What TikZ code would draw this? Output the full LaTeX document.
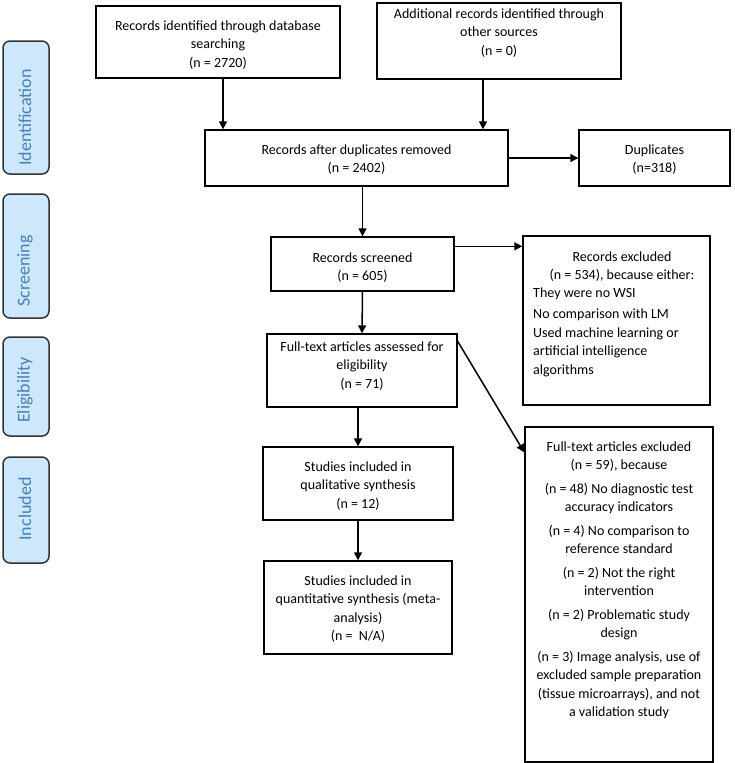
\documentclass[tikz,border=0pt]{standalone}
\usepackage{fontspec}
\setmainfont{Carlito}
\usetikzlibrary{arrows.meta}
\definecolor{lblfill}{HTML}{CCE8FA}
\definecolor{lbltext}{HTML}{4A7EBB}
\definecolor{lblline}{HTML}{333333}
\begin{document}
\begin{tikzpicture}[x=1pt,y=-1pt,
  boxnode/.style={draw=black, line width=1.4pt, inner sep=0pt},
  sidebox/.style={draw=lblline, fill=lblfill, line width=1.5pt, rounded corners=7pt, inner sep=0pt, minimum width=46pt},
  sidetext/.style={text=lbltext, rotate=90, inner sep=0pt, font=\fontsize{18}{20}\selectfont},
  txt/.style={inner sep=0pt, anchor=north, align=center, font=\fontsize{14}{18.5}\selectfont},
  ltxt/.style={inner sep=0pt, anchor=north west, align=left, font=\fontsize{14}{18.5}\selectfont},
  arr/.style={line width=1.5pt, -{Triangle[length=8pt,width=8pt]}}]
\useasboundingbox (0,0) rectangle (734,763);

% side labels
\node[sidebox, minimum height=133pt] (sIdent) at (26,107.5) {};
\node[sidebox, minimum height=124pt] (sScreen) at (26,256) {};
\node[sidebox, minimum height=99pt] (sElig) at (26,386.5) {};
\node[sidebox, minimum height=106pt] (sIncl) at (26,510) {};
\node[sidetext] (tIdent) at (25,117.5) {Identification};
\node[sidetext] (tScreen) at (25,271) {Screening};
\node[sidetext] (tElig) at (25,390) {Eligibility};
\node[sidetext] (tIncl) at (25,509) {Included};

% boxes
\node[boxnode, minimum width=244pt, minimum height=72pt] (b1) at (218,42) {};
\node[boxnode, minimum width=244pt, minimum height=76pt] (b2) at (499,41) {};
\node[boxnode, minimum width=303pt, minimum height=56pt] (b3) at (356.5,158) {};
\node[boxnode, minimum width=151pt, minimum height=56pt] (dup) at (654.5,158) {};
\node[boxnode, minimum width=183pt, minimum height=54pt] (scr) at (362.5,264) {};
\node[boxnode, minimum width=187pt, minimum height=169pt] (excl) at (616.5,320.5) {};
\node[boxnode, minimum width=190pt, minimum height=73pt] (ft) at (362,370.5) {};
\node[boxnode, minimum width=188pt, minimum height=335pt] (ftex) at (619,594.5) {};
\node[boxnode, minimum width=190pt, minimum height=73pt] (qual) at (358,483.5) {};
\node[boxnode, minimum width=188pt, minimum height=93pt] (quant) at (358,607.5) {};

% texts
\node[txt] (t1) at (218,20.5) {Records identified through database\\searching\\(n = 2720)};
\node[txt] (t2) at (499,8.5) {Additional records identified through\\other sources\\(n = 0)};
\node[txt] (t3) at (356.5,144.5) {Records after duplicates removed\\(n = 2402)};
\node[txt] (tdup) at (654.5,144.5) {Duplicates\\(n=318)};
\node[txt] (tscr) at (362.5,252.5) {Records screened\\(n = 605)};
\node[txt] (texcl) at (622,251.5) {Records excluded\\(n = 534), because either:};
\node[ltxt] (texcl2) at (533,287.5) {They were no WSI\\[2.5pt]No comparison with LM\\[0.5pt]Used machine learning or\\artificial intelligence\\algorithms};
\node[txt] (tft) at (362,341.5) {Full-text articles assessed for\\eligibility\\(n = 71)};
\node[txt] (tqual) at (358,461.5) {Studies included in\\qualitative synthesis\\(n = 12)};
\node[txt] (tquant) at (358,575.5) {Studies included in\\quantitative synthesis (meta-\\analysis)\\(n =\ \ N/A)};
\node[txt] (tftex) at (619,441.5) {Full-text articles excluded\\(n = 59), because\\[5pt]
(n = 48) No diagnostic test\\accuracy indicators\\[5pt]
(n = 4) No comparison to\\reference standard\\[5pt]
(n = 2) Not the right\\intervention\\[5pt]
(n = 2) Problematic study\\design\\[5pt]
(n = 3) Image analysis, use of\\excluded sample preparation\\(tissue microarrays), and not\\a validation study};

% connectors
\draw[arr] ([xshift=5pt]b1.south) -- ([xshift=5pt]b1.south |- b3.north);
\draw[arr] ([xshift=-16pt]b2.south) -- ([xshift=-16pt]b2.south |- b3.north);
\draw[arr] (b3.east) -- (dup.west);
\draw[arr] (scr.north |- b3.south) -- (scr.north);
\draw[arr] ([yshift=-10pt]scr.north east) -- ([yshift=-10pt]scr.north east -| excl.west);
\draw[arr] (scr.south) -- (ft.north);
\draw[arr] ([yshift=-8pt]ft.north east) -- ([yshift=-26pt]ftex.north west);
\draw[arr] (qual.north |- ft.south) -- (qual.north);
\draw[arr] (qual.south) -- (quant.north);
\end{tikzpicture}
\end{document}
